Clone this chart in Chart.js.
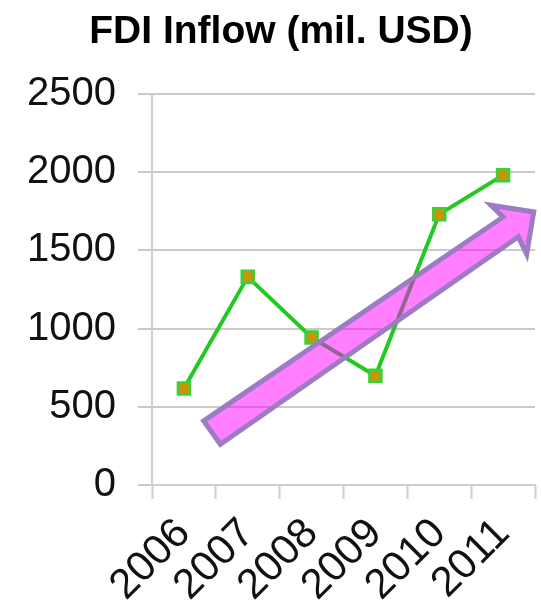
<!DOCTYPE html>
<html>
<head>
<meta charset="utf-8">
<script src="https://cdn.jsdelivr.net/npm/chart.js@4/dist/chart.umd.min.js"></script>
<style>
  html, body { margin: 0; padding: 0; background: #fff; }
  #wrap { width: 541px; height: 606px; }
</style>
</head>
<body>
<div id="wrap"><canvas id="fdi"></canvas></div>
<script>
const years = ['2006', '2007', '2008', '2009', '2010', '2011'];
const fdiInflow = [617, 1330, 943, 698, 1730, 1980];
const yTicks = [0, 500, 1000, 1500, 2000, 2500];

// trend arrow outline, in (category index, value) units
const arrowX = [0.31, 5.0, 4.81, 5.48, 5.37, 5.24, 0.57];
const arrowY = [410, 1713, 1788, 1745, 1475, 1586, 260];

const trendArrow = {
    id: 'trendArrow',
    afterDatasetsDraw(chart) {
        const ctx = chart.ctx;
        const x = chart.scales.x;
        const y = chart.scales.y;
        ctx.save();
        ctx.beginPath();
        arrowX.forEach((v, i) => {
            const px = x.getPixelForValue(v);
            const py = y.getPixelForValue(arrowY[i]);
            if (i === 0) ctx.moveTo(px, py); else ctx.lineTo(px, py);
        });
        ctx.closePath();
        ctx.fillStyle = 'rgba(255, 0, 255, 0.5)';
        ctx.fill();
        ctx.lineWidth = 5;
        ctx.lineJoin = 'miter';
        ctx.strokeStyle = '#9c7cc4';
        ctx.stroke();
        ctx.restore();
    }
};

const fdi = document.getElementById('fdi');

new Chart(fdi, {
    type: 'line',
    data: {
        labels: years,
        datasets: [{
            label: 'FDI Inflow',
            data: fdiInflow,
            borderColor: '#22c922',
            borderWidth: 4,
            tension: 0,
            pointStyle: 'rect',
            pointRadius: 8.5,
            pointBorderWidth: 2.5,
            pointBackgroundColor: '#cc9500',
            pointBorderColor: '#3ccf3c'
        }]
    },
    options: {
        responsive: true,
        maintainAspectRatio: false,
        animation: false,
        layout: {
            autoPadding: false,
            padding: { left: 27, right: 6, top: 0, bottom: 0 }
        },
        plugins: {
            legend: { display: false },
            tooltip: { enabled: false },
            title: {
                display: true,
                text: 'FDI Inflow (mil. USD)',
                color: '#000',
                font: { family: 'Liberation Sans', size: 39, weight: 'bold' },
                padding: { top: 9, bottom: 38 }
            }
        },
        scales: {
            x: {
                offset: true,
                grid: {
                    offset: true,
                    drawOnChartArea: false,
                    drawTicks: true,
                    tickLength: 14,
                    tickWidth: 2,
                    color: '#cfcfcf'
                },
                border: { color: '#cfcfcf', width: 2 },
                ticks: {
                    color: '#111',
                    font: { family: 'Liberation Sans', size: 42 },
                    maxRotation: 45,
                    minRotation: 45,
                    padding: 10,
                    autoSkip: false
                },
                afterFit(scale) {
                    scale.height = 121;
                    scale.paddingLeft = 0;
                    scale.paddingRight = 0;
                }
            },
            y: {
                min: 0,
                max: 2500,
                afterBuildTicks(scale) { scale.ticks = yTicks.map(v => ({ value: v })); },
                grid: {
                    color: '#cacaca',
                    lineWidth: 2,
                    tickLength: 14
                },
                border: { color: '#cfcfcf', width: 2 },
                ticks: {
                    color: '#111',
                    font: { family: 'Liberation Sans', size: 40 },
                    padding: 22,
                    callback: (v) => String(v)
                },
                afterFit(scale) { scale.width = 125; }
            }
        }
    },
    plugins: [trendArrow]
});
</script>
</body>
</html>
